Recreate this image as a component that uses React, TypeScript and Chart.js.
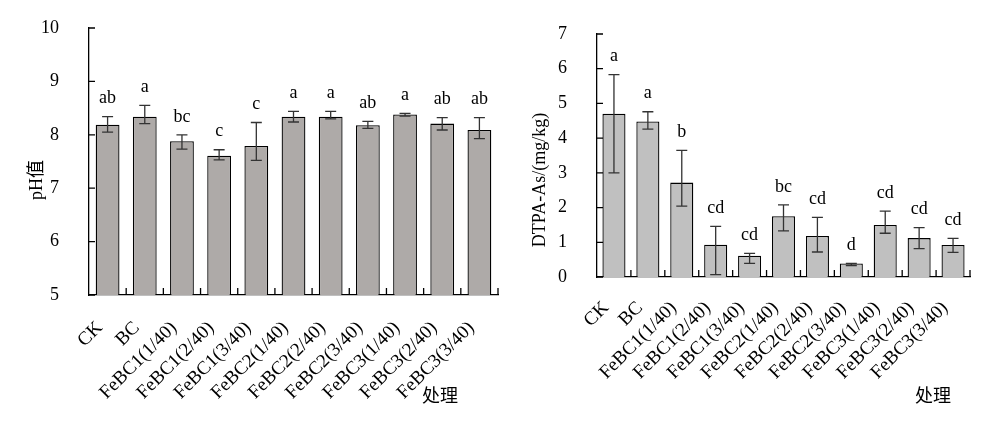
import React, { useRef, useEffect } from 'react';
import { Chart, registerables } from 'chart.js';
import type { Plugin } from 'chart.js';

Chart.register(...registerables);

const SERIF = "'Liberation Serif', 'DejaVu Serif', 'Noto Sans CJK SC', serif";

// treatments (x categories)
const treatments = [
  'CK', 'BC',
  'FeBC1(1/40)', 'FeBC1(2/40)', 'FeBC1(3/40)',
  'FeBC2(1/40)', 'FeBC2(2/40)', 'FeBC2(3/40)',
  'FeBC3(1/40)', 'FeBC3(2/40)', 'FeBC3(3/40)',
];

// left panel: soil pH
const phValues = [8.19, 8.34, 7.88, 7.61, 7.79, 8.34, 8.34, 8.18, 8.38, 8.21, 8.09];
const phPlus = [0.15, 0.21, 0.12, 0.11, 0.44, 0.10, 0.10, 0.07, 0.02, 0.11, 0.23];
const phMinus = [0.14, 0.13, 0.15, 0.08, 0.27, 0.10, 0.04, 0.06, 0.03, 0.12, 0.16];
const phLetters = ['ab', 'a', 'bc', 'c', 'c', 'a', 'a', 'ab', 'a', 'ab', 'ab'];

// right panel: DTPA-As
const asValues = [4.70, 4.48, 2.72, 0.93, 0.61, 1.75, 1.18, 0.39, 1.50, 1.12, 0.92];
const asPlus = [1.13, 0.28, 0.93, 0.53, 0.07, 0.33, 0.54, 0.0, 0.40, 0.30, 0.19];
const asMinus = [1.70, 0.22, 0.68, 0.86, 0.22, 0.42, 0.46, 0.06, 0.24, 0.30, 0.21];
const asLetters = ['a', 'a', 'b', 'cd', 'cd', 'bc', 'cd', 'd', 'cd', 'cd', 'cd'];

interface PanelProps {
  width: number;
  height: number;
  values: number[];
  plus: number[];
  minus: number[];
  letters: string[];
  yMin: number;
  yMax: number;
  fill: string;
  barPct: number;
  yTitle: string;
  yTitlePos: [number, number];
  xTitlePos: [number, number];
  yAxisWidth: number;
  xAxisHeight: number;
  padTop: number;
  padRight: number;
  labelPad: number;
}

const BarPanel: React.FC<PanelProps> = (p) => {
  const canvasRef = useRef<HTMLCanvasElement>(null);

  useEffect(() => {
    if (!canvasRef.current) return;

    // error bars, significance letters, inward ticks and axis titles
    const extras: Plugin<'bar'> = {
      id: 'extras',
      afterDatasetsDraw(chart) {
        const ctx = chart.ctx;
        const y = chart.scales.y;
        const x = chart.scales.x;
        const area = chart.chartArea;
        const bars = chart.getDatasetMeta(0).data;
        ctx.save();

        // error bars
        ctx.strokeStyle = '#333';
        ctx.lineWidth = 1.3;
        bars.forEach((bar, i) => {
          const cx = bar.x;
          const top = y.getPixelForValue(p.values[i] + p.plus[i]);
          const bot = y.getPixelForValue(p.values[i] - p.minus[i]);
          ctx.beginPath();
          ctx.moveTo(cx, top);
          ctx.lineTo(cx, bot);
          ctx.moveTo(cx - 5.5, top);
          ctx.lineTo(cx + 5.5, top);
          ctx.moveTo(cx - 5.5, bot);
          ctx.lineTo(cx + 5.5, bot);
          ctx.stroke();
        });

        // letters
        ctx.fillStyle = '#000';
        ctx.font = `18px ${SERIF}`;
        ctx.textAlign = 'center';
        ctx.textBaseline = 'middle';
        bars.forEach((bar, i) => {
          const top = y.getPixelForValue(p.values[i] + Math.max(p.plus[i], 0.02));
          ctx.fillText(p.letters[i], bar.x, top - 18);
        });

        // ticks pointing into the plot
        ctx.strokeStyle = '#000';
        ctx.lineWidth = 1.3;
        ctx.beginPath();
        y.ticks.forEach((t) => {
          const ty = y.getPixelForValue(t.value);
          ctx.moveTo(area.left, ty);
          ctx.lineTo(area.left + 6, ty);
        });
        for (let i = 0; i < treatments.length; i++) {
          const tx = x.getPixelForValue(i + 0.5);
          ctx.moveTo(tx, area.bottom);
          ctx.lineTo(tx, area.bottom - 7);
        }
        ctx.stroke();

        // axis titles
        ctx.save();
        ctx.translate(p.yTitlePos[0], p.yTitlePos[1]);
        ctx.rotate(-Math.PI / 2);
        ctx.fillText(p.yTitle, 0, 0);
        ctx.restore();
        ctx.fillText('处理', p.xTitlePos[0], p.xTitlePos[1]);

        ctx.restore();
      },
    };

    const chart = new Chart(canvasRef.current, {
      type: 'bar',
      data: {
        labels: treatments,
        datasets: [
          {
            data: p.values,
            backgroundColor: p.fill,
            borderColor: '#000',
            borderWidth: 1.3,
            barPercentage: p.barPct,
            categoryPercentage: 1,
          },
        ],
      },
      options: {
        responsive: false,
        animation: false,
        devicePixelRatio: 1,
        layout: { padding: { top: p.padTop, right: p.padRight, left: 0, bottom: 0 } },
        plugins: { legend: { display: false }, tooltip: { enabled: false } },
        scales: {
          x: {
            grid: { display: false },
            border: { display: true, color: '#000', width: 1.3 },
            ticks: {
              color: '#000',
              font: { family: SERIF, size: 19 },
              maxRotation: 45,
              minRotation: 45,
              autoSkip: false,
              labelOffset: -8,
              padding: p.labelPad,
            },
            afterFit: (scale) => {
              scale.height = p.xAxisHeight;
              scale.paddingLeft = 0;
              scale.paddingRight = 0;
            },
          },
          y: {
            min: p.yMin,
            max: p.yMax,
            grid: { display: false },
            border: { display: true, color: '#000', width: 1.3 },
            ticks: {
              stepSize: 1,
              color: '#000',
              font: { family: SERIF, size: 18 },
              padding: 22,
            },
            afterFit: (scale) => {
              scale.width = p.yAxisWidth;
              scale.paddingTop = 0;
              scale.paddingBottom = 0;
            },
          },
        },
      },
      plugins: [extras],
    });

    return () => {
      chart.destroy();
    };
  }, [p]);

  return <canvas ref={canvasRef} width={p.width} height={p.height} style={{ display: 'block' }} />;
};

const phPanel: PanelProps = {
  width: 500,
  height: 424,
  values: phValues,
  plus: phPlus,
  minus: phMinus,
  letters: phLetters,
  yMin: 5,
  yMax: 10,
  fill: '#aeaaa8',
  barPct: 0.64,
  yTitle: 'pH值',
  yTitlePos: [37, 180],
  xTitlePos: [440, 397],
  yAxisWidth: 89,
  xAxisHeight: 129,
  padTop: 28,
  padRight: 2,
  labelPad: 14,
};

const asPanel: PanelProps = {
  width: 489,
  height: 424,
  values: asValues,
  plus: asPlus,
  minus: asMinus,
  letters: asLetters,
  yMin: 0,
  yMax: 7,
  fill: '#c0c0c0',
  barPct: 0.68,
  yTitle: 'DTPA-As/(mg/kg)',
  yTitlePos: [40, 180],
  xTitlePos: [433, 397],
  yAxisWidth: 97,
  xAxisHeight: 147,
  padTop: 34,
  padRight: 19,
  labelPad: 12,
};

export default function App() {
  return (
    <div style={{ position: 'fixed', left: 0, top: 0, width: 989, height: 424, background: '#fff', display: 'flex' }}>
      <BarPanel {...phPanel} />
      <BarPanel {...asPanel} />
    </div>
  );
}
